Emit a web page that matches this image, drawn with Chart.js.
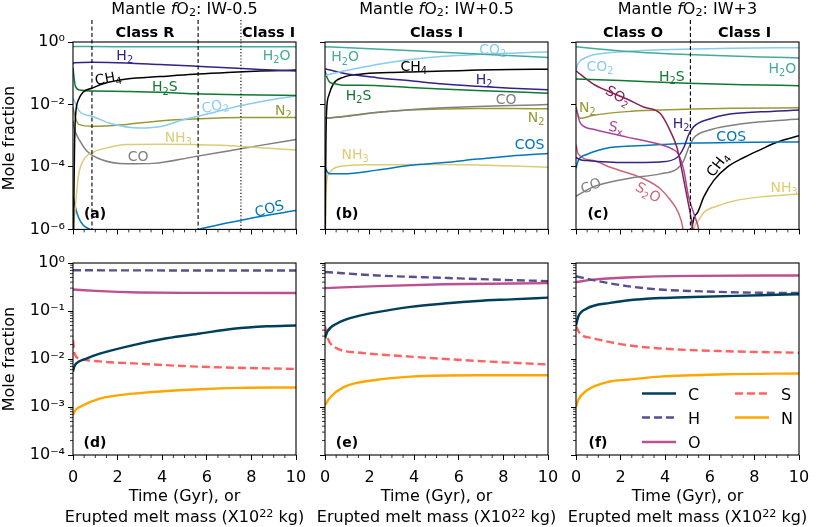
<!DOCTYPE html>
<html>
<head>
<meta charset="utf-8">
<script src="https://cdn.jsdelivr.net/npm/chart.js@4.4.0/dist/chart.umd.min.js"></script>
<style>
  body { margin: 0; background: #fff; }
  #fig { position: relative; width: 830px; height: 527px; overflow: hidden; background: #fff;
         font-family: 'DejaVu Sans', sans-serif; color: #000; }
  canvas { position: absolute; }
  .txt { position: absolute; font-size: 16px; line-height: 1; white-space: nowrap; }
  .txt sub { font-size: 0.7em; vertical-align: -0.22em; line-height: 0; }
  .txt sup { font-size: 0.7em; vertical-align: 0.45em; line-height: 0; }
</style>
</head>
<body>
<div id="fig"></div>
<script>
// ---- data: [x (Gyr), mole fraction] ----
// (a) IW-0.5
const a_H2O = [[0, 0.72], [2, 0.71], [5, 0.71], [8, 0.71], [10, 0.71]];
const a_H2 = [[0, 0.2], [0.05, 0.215], [0.9, 0.225], [2.4, 0.214], [3.9, 0.19], [5.4, 0.169], [6.9, 0.15], [8.4, 0.132], [10, 0.117]];
const a_CH4 = [[0, 1e-8], [0.04, 1e-5], [0.07, 5e-4], [0.1, 3e-3], [0.15, 8e-3], [0.24, 0.014], [0.46, 0.025], [0.84, 0.033], [1.36, 0.046], [2.4, 0.065], [3.9, 0.078], [5.4, 0.093], [6.9, 0.105], [8.4, 0.117], [10, 0.126]];
const a_H2S = [[0, 0.15], [0.05, 0.07], [0.1, 0.04], [0.3, 0.029], [0.9, 0.027], [2.4, 0.026], [3.9, 0.0245], [5.4, 0.022], [6.9, 0.021], [8.4, 0.02], [10, 0.0195]];
const a_CO2 = [[0, 0.016], [0.3, 0.006], [0.9, 0.0041], [1.65, 0.0025], [3, 0.00175], [4, 0.002], [4.9, 0.0032], [6.1, 0.0051], [7.6, 0.0094], [9.1, 0.015], [10, 0.0186]];
const a_N2 = [[0, 0.008], [0.1, 0.004], [0.25, 0.0023], [0.9, 0.002], [2.4, 0.0023], [4, 0.003], [5.4, 0.0034], [7.6, 0.0038], [10, 0.0038]];
const a_NH3 = [[0, 1e-8], [0.04, 1e-6], [0.09, 3.5e-6], [0.24, 4.9e-5], [0.46, 1.6e-4], [0.91, 2.95e-4], [1.66, 4.3e-4], [2.4, 5.2e-4], [3.9, 5.3e-4], [5.4, 5.2e-4], [6.9, 4.9e-4], [8.4, 4.1e-4], [10, 3.5e-4]];
const a_CO = [[0, 0.003], [0.05, 0.0018], [0.31, 6.8e-4], [0.61, 3.3e-4], [1.2, 1.8e-4], [2.4, 1.26e-4], [3.6, 1.3e-4], [5.4, 2.1e-4], [6.9, 3.2e-4], [8.4, 4.9e-4], [10, 7.6e-4]];
const a_COS = [[0, 1.2e-5], [0.09, 5.6e-6], [0.24, 2.5e-6], [0.46, 1.35e-6], [0.76, 1e-6], [1.0, 7e-7], [1.1, null], [5.6, 1e-6], [6.9, 1.6e-6], [8.4, 2.6e-6], [10, 4e-6]];

// (b) IW+0.5
const b_H2O = [[0, 0.71], [2.5, 0.59], [5, 0.48], [7.5, 0.39], [10, 0.32]];
const b_CO2 = [[0, 0.085], [0.83, 0.117], [2.33, 0.19], [3.83, 0.275], [5.34, 0.35], [6.84, 0.4], [8.35, 0.44], [10, 0.48]];
const b_H2 = [[0, 0.14], [0.83, 0.1], [2.33, 0.072], [3.83, 0.057], [5.34, 0.045], [6.84, 0.038], [8.35, 0.033], [10, 0.0295]];
const b_H2S = [[0, 0.12], [0.1, 0.07], [0.22, 0.051], [0.5, 0.045], [0.81, 0.041], [1.6, 0.041], [3.8, 0.035], [6.8, 0.028], [10, 0.023]];
const b_CH4 = [[0, 1e-8], [0.02, 1e-5], [0.04, 5e-4], [0.07, 0.0059], [0.17, 0.0195], [0.38, 0.046], [0.82, 0.074], [1.57, 0.093], [2.9, 0.105], [3.83, 0.11], [5.34, 0.117], [6.84, 0.126], [8.35, 0.132], [10, 0.135]];
const b_CO = [[0, 0.0036], [1, 0.0042], [2.3, 0.0055], [3.8, 0.0068], [5.3, 0.0078], [6.8, 0.0086], [8.35, 0.0093], [10, 0.0099]];
const b_N2 = [[0, 0.0036], [1, 0.0043], [2.3, 0.0055], [3.8, 0.0066], [5.3, 0.0072], [6.8, 0.0074], [8.35, 0.0074], [10, 0.0073]];
const b_COS = [[0, 1.0e-4], [0.1, 7e-5], [0.2, 6e-5], [0.83, 6.0e-5], [2.33, 7.9e-5], [3.83, 1.13e-4], [5.34, 1.38e-4], [6.84, 1.78e-4], [8.35, 2.24e-4], [10, 2.7e-4]];
const b_NH3 = [[0, 1e-8], [0.02, 1.2e-6], [0.07, 3e-5], [0.17, 6.2e-5], [0.38, 8.9e-5], [0.82, 1.08e-4], [2.3, 1.17e-4], [3.8, 1.2e-4], [5.3, 1.2e-4], [6.8, 1.15e-4], [8.35, 1.08e-4], [10, 9.8e-5]];

// (c) IW+3
const c_H2O = [[0, 0.71], [1, 0.6], [2.3, 0.5], [5.3, 0.39], [8.3, 0.33], [10, 0.31]];
const c_CO2 = [[0, 0.12], [0.06, 0.18], [0.18, 0.245], [0.5, 0.33], [0.78, 0.39], [2.3, 0.5], [3.8, 0.56], [5.3, 0.6], [7, 0.63], [10, 0.66]];
const c_H2S = [[0, 0.065], [2, 0.058], [5, 0.048], [7.5, 0.043], [10, 0.04]];
const c_SO2 = [[0, 0.12], [0.78, 0.045], [1.53, 0.025], [2.28, 0.015], [3.03, 0.0083], [3.78, 0.0051], [4.23, 0.0014], [4.53, 4.1e-4], [4.75, 7.6e-5], [4.98, 1.1e-5], [5.2, 1.6e-6], [5.35, 3e-7]];
const c_Sx = [[0, 0.0085], [0.1, 0.004], [0.2, 0.0025], [0.78, 0.0016], [1.53, 0.0012], [2.28, 9e-4], [3.03, 7e-4], [3.78, 5.2e-4], [4.3, 3.8e-4], [4.6, 2.5e-4], [4.83, 8e-5], [5.05, 1.1e-5], [5.28, 3.3e-6], [5.5, 1e-6], [5.6, 3e-7]];
const c_N2 = [[0, 0.0076], [0.1, 0.0045], [0.18, 0.0036], [0.78, 0.0045], [2.28, 0.0059], [3.78, 0.0066], [5.3, 0.0071], [7, 0.0075], [10, 0.0078]];
const c_H2 = [[0, 2.0e-4], [0.2, 1.7e-4], [0.48, 1.6e-4], [2.28, 1.38e-4], [3.78, 1.45e-4], [4.53, 2.0e-4], [4.83, 4.1e-4], [5.05, 1.07e-3], [5.28, 1.95e-3], [6.03, 3.5e-3], [6.78, 4.8e-3], [8.28, 5.8e-3], [10, 6.6e-3]];
const c_COS = [[0, 9e-5], [0.1, 1.6e-4], [0.48, 2.5e-4], [1.53, 4.2e-4], [2.28, 4.6e-4], [3.78, 5.2e-4], [5.3, 5.8e-4], [7, 6.1e-4], [10, 6.3e-4]];
const c_CO = [[0, 1.15e-5], [0.78, 2.3e-5], [2.28, 4.2e-5], [3.78, 6e-5], [4.53, 8.7e-5], [4.83, 1.6e-4], [5.05, 4.1e-4], [5.28, 8.5e-4], [6.03, 1.55e-3], [6.78, 2.04e-3], [8.28, 2.8e-3], [10, 3.4e-3]];
const c_S2O = [[0, 5.2e-4], [0.1, 2.6e-4], [0.78, 1.6e-4], [1.53, 9.8e-5], [3.03, 4.2e-5], [3.78, 2.0e-5], [4.23, 8.7e-6], [4.6, 3.3e-6], [4.8, 1e-6], [4.9, 2e-7]];
const c_CH4 = [[5.12, 1e-8], [5.2, 1e-6], [5.43, 3.3e-6], [5.73, 1.1e-5], [6.18, 3.7e-5], [6.78, 9.8e-5], [7.53, 2e-4], [8.28, 3.6e-4], [9.03, 6.3e-4], [10, 1.0e-3]];
const c_NH3 = [[5.22, 1e-8], [5.3, 1e-6], [5.43, 1.7e-6], [5.73, 3.5e-6], [6.34, 5.6e-6], [7.07, 8.1e-6], [8.28, 1.1e-5], [10, 1.35e-5]];

// (d)-(f) elemental ratios
const d_C = [[0, 0.0055], [0.05, 0.0068], [0.15, 0.0081], [0.6, 0.0102], [1.2, 0.0129], [2.7, 0.0195], [4.2, 0.027], [5.7, 0.034], [7.2, 0.0427], [8.7, 0.048], [10, 0.05]];
const d_H = [[0, 0.705], [5, 0.70], [10, 0.70]];
const d_O = [[0, 0.28], [1, 0.262], [2, 0.25], [3, 0.243], [5, 0.238], [10, 0.237]];
const d_S = [[0, 0.025], [0.07, 0.013], [0.3, 0.0102], [1.2, 0.0089], [2.7, 0.0081], [5.7, 0.0069], [10, 0.0062]];
const d_N = [[0, 6.8e-4], [0.1, 8.5e-4], [0.3, 1.0e-3], [1.2, 1.5e-3], [2.7, 1.9e-3], [4.2, 2.15e-3], [5.7, 2.35e-3], [7.5, 2.5e-3], [10, 2.55e-3]];

const e_C = [[0, 0.027], [0.1, 0.037], [0.54, 0.055], [1.6, 0.081], [2.34, 0.095], [3.84, 0.122], [5.34, 0.143], [6.84, 0.162], [8.34, 0.175], [10, 0.19]];
const e_H = [[0, 0.65], [2.34, 0.55], [5.34, 0.49], [8.34, 0.44], [10, 0.42]];
const e_O = [[0, 0.30], [2.34, 0.33], [5.34, 0.36], [10, 0.38]];
const e_S = [[0, 0.048], [0.1, 0.029], [0.4, 0.018], [1.6, 0.0135], [3.84, 0.0112], [6.84, 0.0091], [10, 0.0077]];
const e_N = [[0, 1.1e-3], [0.24, 1.6e-3], [0.84, 2.6e-3], [2.34, 3.7e-3], [3.84, 4.3e-3], [6.84, 4.6e-3], [10, 4.6e-3]];

const f_C = [[0, 0.05], [0.1, 0.076], [0.48, 0.112], [1.53, 0.148], [2.28, 0.166], [3.77, 0.186], [5.27, 0.196], [8.26, 0.213], [10, 0.224]];
const f_H = [[0, 0.53], [0.78, 0.44], [2.28, 0.33], [3.77, 0.28], [5.27, 0.26], [8.26, 0.24], [10, 0.238]];
const f_O = [[0, 0.40], [0.78, 0.45], [2.28, 0.50], [5.27, 0.54], [10, 0.55]];
const f_S = [[0, 0.048], [0.18, 0.034], [0.78, 0.027], [2.28, 0.0195], [3.77, 0.0166], [6.77, 0.0145], [10, 0.0135]];
const f_N = [[0, 1.0e-3], [0.1, 1.4e-3], [0.48, 2.2e-3], [1.53, 3.4e-3], [2.28, 3.7e-3], [3.77, 4.3e-3], [6.77, 4.8e-3], [10, 5.0e-3]];

// ---- axes ----
const X_MIN = 0, X_MAX = 10, X_STEP = 2;
const TOP_Y_TICKS = [1, 1e-2, 1e-4, 1e-6];
const BOT_Y_TICKS = [1, 1e-1, 1e-2, 1e-3, 1e-4];
const TITLES = ['IW-0.5', 'IW+0.5', 'IW+3'];

// ---- styles ----
const COL = {
  H2O: '#44aa99', CO2: '#88ccee', H2: '#332288', H2S: '#117733', N2: '#999933',
  NH3: '#ddcc77', CO: '#808080', COS: '#0077bb', CH4: '#000000',
  SO2: '#882255', Sx: '#aa4499', S2O: '#cc6677',
  C: '#003f5c', H: '#58508d', O: '#bc5090', S: '#ff6361', N: '#ffa600'
};
const FONT = '"DejaVu Sans", sans-serif';
Chart.defaults.font.family = FONT;
Chart.defaults.font.size = 16;
Chart.defaults.color = '#000';

const PLOT_LEFT = [73, 325, 576];
const PLOT_W = 223, PLOT_H = 192, Y_AXIS_W = 73, PAD_R = 25;
const ROWS = [{ top: 0, padTop: 42, h: 242 }, { top: 240, padTop: 23, h: 287 }];

const SUP = { '0': '⁰', '1': '¹', '2': '²', '3': '³', '4': '⁴', '5': '⁵', '6': '⁶', '-': '⁻' };
const pow10 = v => '10' + String(Math.round(Math.log10(v))).split('').map(c => SUP[c]).join('');

function richSegments(str) {
  const segs = [];
  for (let i = 0; i < str.length; i++) {
    if (str[i] === '_') { segs.push({ t: str[i + 1], sub: true }); i++; }
    else if (segs.length && !segs[segs.length - 1].sub) segs[segs.length - 1].t += str[i];
    else segs.push({ t: str[i], sub: false });
  }
  return segs;
}

function drawRich(ctx, str, x, y, size, color, rot, bold) {
  const segs = richSegments(str);
  const font = s => (bold ? 'bold ' : '') + s + 'px ' + FONT;
  let w = 0;
  segs.forEach(s => { ctx.font = font(s.sub ? size * 0.7 : size); s.w = ctx.measureText(s.t).width; w += s.w; });
  ctx.save();
  ctx.translate(x, y);
  ctx.rotate((rot || 0) * Math.PI / 180);
  ctx.fillStyle = color;
  ctx.textAlign = 'left';
  ctx.textBaseline = 'alphabetic';
  let cx = -w / 2;
  segs.forEach(s => {
    ctx.font = font(s.sub ? size * 0.7 : size);
    ctx.fillText(s.t, cx, size * 0.365 + (s.sub ? size * 0.22 : 0));
    cx += s.w;
  });
  ctx.restore();
}

const pts = arr => arr.map(p => ({ x: p[0], y: p[1] }));

function line(label, arr, color, width, dash) {
  return {
    label, data: pts(arr), borderColor: color, borderWidth: width, borderDash: dash || [],
    pointRadius: 0, fill: false, cubicInterpolationMode: 'monotone', spanGaps: false
  };
}

const panels = [
  {
    letter: '(a)', row: 0, col: 0,
    datasets: [
      line('H2O', a_H2O, COL.H2O, 1.5), line('H2', a_H2, COL.H2, 1.5), line('CH4', a_CH4, COL.CH4, 1.5),
      line('H2S', a_H2S, COL.H2S, 1.5), line('CO2', a_CO2, COL.CO2, 1.5), line('N2', a_N2, COL.N2, 1.5),
      line('NH3', a_NH3, COL.NH3, 1.5), line('CO', a_CO, COL.CO, 1.5), line('COS', a_COS, COL.COS, 1.5)
    ],
    labels: [
      { t: 'H_2', x: 2.32, y: 0.389, c: COL.H2 }, { t: 'H_2O', x: 9.13, y: 0.389, c: COL.H2O },
      { t: 'CH_4', x: 1.57, y: 0.0724, c: COL.CH4, r: -10 }, { t: 'H_2S', x: 4.12, y: 0.038, c: COL.H2S },
      { t: 'CO_2', x: 6.36, y: 0.0093, c: COL.CO2, r: -12 }, { t: 'N_2', x: 9.43, y: 0.0066, c: COL.N2 },
      { t: 'NH_3', x: 4.72, y: 9.5e-4, c: COL.NH3 }, { t: 'CO', x: 2.92, y: 2.24e-4, c: COL.CO },
      { t: 'COS', x: 8.8, y: 4.8e-6, c: COL.COS, r: -15 }
    ],
    vlines: [{ x: 0.85, dash: [4, 2.5] }, { x: 5.61, dash: [4, 2.5] }, { x: 7.53, dash: [1.2, 2] }],
    classes: [{ t: 'Class R', x: 3.23 }, { t: 'Class I', x: 8.77 }]
  },
  {
    letter: '(b)', row: 0, col: 1,
    datasets: [
      line('H2O', b_H2O, COL.H2O, 1.5), line('CO2', b_CO2, COL.CO2, 1.5), line('H2', b_H2, COL.H2, 1.5),
      line('H2S', b_H2S, COL.H2S, 1.5), line('CH4', b_CH4, COL.CH4, 1.5), line('CO', b_CO, COL.CO, 1.5),
      line('N2', b_N2, COL.N2, 1.5), line('COS', b_COS, COL.COS, 1.5), line('NH3', b_NH3, COL.NH3, 1.5)
    ],
    labels: [
      { t: 'H_2O', x: 0.9, y: 0.347, c: COL.H2O }, { t: 'CO_2', x: 7.52, y: 0.603, c: COL.CO2 },
      { t: 'CH_4', x: 3.98, y: 0.17, c: COL.CH4 }, { t: 'H_2', x: 7.14, y: 0.0676, c: COL.H2 },
      { t: 'H_2S', x: 1.5, y: 0.0209, c: COL.H2S }, { t: 'CO', x: 8.12, y: 0.0151, c: COL.CO },
      { t: 'N_2', x: 9.47, y: 0.0039, c: COL.N2 }, { t: 'COS', x: 9.17, y: 5.6e-4, c: COL.COS },
      { t: 'NH_3', x: 1.35, y: 2.57e-4, c: COL.NH3 }
    ],
    vlines: [],
    classes: [{ t: 'Class I', x: 5 }]
  },
  {
    letter: '(c)', row: 0, col: 2,
    datasets: [
      line('H2O', c_H2O, COL.H2O, 1.5), line('CO2', c_CO2, COL.CO2, 1.5), line('H2S', c_H2S, COL.H2S, 1.5),
      line('SO2', c_SO2, COL.SO2, 1.5), line('Sx', c_Sx, COL.Sx, 1.5), line('N2', c_N2, COL.N2, 1.5),
      line('H2', c_H2, COL.H2, 1.5), line('COS', c_COS, COL.COS, 1.5), line('CO', c_CO, COL.CO, 1.5),
      line('S2O', c_S2O, COL.S2O, 1.5), line('CH4', c_CH4, COL.CH4, 1.5), line('NH3', c_NH3, COL.NH3, 1.5)
    ],
    labels: [
      { t: 'CO_2', x: 1.08, y: 0.178, c: COL.CO2 }, { t: 'H_2O', x: 9.25, y: 0.148, c: COL.H2O },
      { t: 'H_2S', x: 4.3, y: 0.085, c: COL.H2S }, { t: 'SO_2', x: 1.9, y: 0.0195, c: COL.SO2, r: 30 },
      { t: 'N_2', x: 0.51, y: 0.0083, c: COL.N2 }, { t: 'S_x', x: 1.8, y: 0.00195, c: COL.Sx, r: 10 },
      { t: 'H_2', x: 4.71, y: 0.0025, c: COL.H2 }, { t: 'COS', x: 6.96, y: 0.00102, c: COL.COS },
      { t: 'CH_4', x: 6.33, y: 1.23e-4, c: COL.CH4, r: -52 }, { t: 'CO', x: 0.66, y: 2.57e-5, c: COL.CO, r: -22 },
      { t: 'S_2O', x: 3.25, y: 1.58e-5, c: COL.S2O, r: 30 }, { t: 'NH_3', x: 9.33, y: 2.29e-5, c: COL.NH3 }
    ],
    vlines: [{ x: 5.13, dash: [4, 2.5] }],
    classes: [{ t: 'Class O', x: 2.56 }, { t: 'Class I', x: 7.56 }]
  },
  { letter: '(d)', row: 1, col: 0, elem: [d_C, d_H, d_O, d_S, d_N] },
  { letter: '(e)', row: 1, col: 1, elem: [e_C, e_H, e_O, e_S, e_N] },
  { letter: '(f)', row: 1, col: 2, elem: [f_C, f_H, f_O, f_S, f_N], legend: true }
];

const fig = document.getElementById('fig');

function addText(html, x, y, cls, extra) {
  const d = document.createElement('div');
  d.className = 'txt' + (cls ? ' ' + cls : '');
  d.innerHTML = html;
  d.style.left = x + 'px';
  d.style.top = y + 'px';
  d.style.transform = extra || 'translateX(-50%)';
  fig.appendChild(d);
}

function panelPlugin(p) {
  return {
    id: 'panelDeco',
    afterDraw(chart) {
      const { ctx, chartArea: ca, scales: { x, y } } = chart;
      ctx.save();
      // curve labels
      (p.labels || []).forEach(l => drawRich(ctx, l.t, x.getPixelForValue(l.x), y.getPixelForValue(l.y), 14, l.c, l.r));
      // vertical class boundaries
      (p.vlines || []).forEach(v => {
        const px = x.getPixelForValue(v.x);
        ctx.beginPath();
        ctx.setLineDash(v.dash);
        ctx.strokeStyle = '#000';
        ctx.lineWidth = 1.1;
        ctx.moveTo(px, 20);
        ctx.lineTo(px, ca.bottom);
        ctx.stroke();
      });
      ctx.setLineDash([]);
      (p.classes || []).forEach(c => drawRich(ctx, c.t, x.getPixelForValue(c.x), 32, 14.5, '#000', 0, true));
      // frame
      ctx.strokeStyle = '#000';
      ctx.lineWidth = 1.1;
      ctx.strokeRect(ca.left, ca.top, ca.right - ca.left, ca.bottom - ca.top);
      // minor ticks
      ctx.lineWidth = 0.8;
      ctx.beginPath();
      for (let v = 0.5; v < X_MAX; v += 0.5) {
        if (v % X_STEP === 0) continue;
        const px = x.getPixelForValue(v);
        ctx.moveTo(px, ca.bottom);
        ctx.lineTo(px, ca.bottom + 3);
      }
      if (p.row === 1) {
        for (let n = -4; n < 0; n++) {
          for (let k = 2; k <= 9; k++) {
            const py = y.getPixelForValue(k * Math.pow(10, n));
            ctx.moveTo(ca.left - 3, py);
            ctx.lineTo(ca.left, py);
          }
        }
      }
      ctx.stroke();
      // panel letter
      drawRich(ctx, p.letter, ca.left + 22, ca.bottom - (p.row === 0 ? 17 : 13.5), 14, '#000', 0, true);
      // legend
      if (p.legend) {
        const cols = [[0, 1, 2], [3, 4]];
        const colX = [66, 159];
        const rowY = [130.5, 154.5, 179];
        cols.forEach((idxs, ci) => idxs.forEach((di, ri) => {
          const ds = chart.data.datasets[di];
          const lx = ca.left + colX[ci], ly = ca.top + rowY[ri];
          ctx.beginPath();
          ctx.setLineDash(ds.borderDash);
          ctx.strokeStyle = ds.borderColor;
          ctx.lineWidth = ds.borderWidth;
          ctx.moveTo(lx, ly);
          ctx.lineTo(lx + 34, ly);
          ctx.stroke();
          ctx.setLineDash([]);
          ctx.fillStyle = '#000';
          ctx.font = '16px ' + FONT;
          ctx.textAlign = 'left';
          ctx.textBaseline = 'alphabetic';
          ctx.fillText(ds.label, lx + 46, ly + 6);
        }));
      }
      ctx.restore();
    }
  };
}

panels.forEach(p => {
  const row = ROWS[p.row];
  const cv = document.createElement('canvas');
  const w = Y_AXIS_W + PLOT_W + PAD_R;
  cv.width = w; cv.height = row.h;
  cv.style.left = (PLOT_LEFT[p.col] - Y_AXIS_W) + 'px';
  cv.style.top = row.top + 'px';
  cv.style.width = w + 'px'; cv.style.height = row.h + 'px';
  fig.appendChild(cv);

  let datasets = p.datasets;
  if (p.elem) {
    const [C, H, O, S, N] = p.elem;
    datasets = [
      line('C', C, COL.C, 2.4), line('H', H, COL.H, 2.4, [8, 4]), line('O', O, COL.O, 2.4),
      line('S', S, COL.S, 2.4, [8, 4]), line('N', N, COL.N, 2.4)
    ];
  }
  const yTicks = p.row === 0 ? TOP_Y_TICKS : BOT_Y_TICKS;
  const showY = p.col === 0, showX = p.row === 1;
  const xAxisH = row.h - row.padTop - PLOT_H;
  const grid = { drawOnChartArea: false, drawTicks: true, tickLength: 5, color: '#000', tickColor: '#000', tickWidth: 1 };

  new Chart(cv, {
    type: 'line',
    data: { datasets },
    options: {
      responsive: false,
      animation: false,
      devicePixelRatio: 1,
      layout: { padding: { top: row.padTop, right: PAD_R, bottom: 0, left: 0 } },
      plugins: { legend: { display: false }, tooltip: { enabled: false } },
      scales: {
        x: {
          type: 'linear', min: X_MIN, max: X_MAX,
          afterFit: s => { s.height = xAxisH; },
          ticks: { stepSize: X_STEP, padding: 8, maxRotation: 0, autoSkip: false, callback: v => showX ? String(v) : '' },
          grid, border: { display: false }
        },
        y: {
          type: 'logarithmic', min: yTicks[yTicks.length - 1], max: 1,
          afterFit: s => { s.width = Y_AXIS_W; },
          afterBuildTicks: s => { s.ticks = yTicks.map(v => ({ value: v })); },
          ticks: { padding: 3, autoSkip: false, callback: v => showY ? pow10(v) : '' },
          grid, border: { display: false }
        }
      }
    },
    plugins: [panelPlugin(p)]
  });
});

// titles and axis labels
TITLES.forEach((t, i) => {
  const cx = PLOT_LEFT[i] + PLOT_W / 2;
  addText('Mantle <i>f</i>O<sub>2</sub>: ' + t, cx, 0.5);
  addText('Time (Gyr), or', cx, 488);
  addText('Erupted melt mass (X10<sup>22</sup> kg)', cx, 509);
});
addText('Mole fraction', 8.5, 138, '', 'translate(-50%, -50%) rotate(-90deg)');
addText('Mole fraction', 8.5, 359, '', 'translate(-50%, -50%) rotate(-90deg)');
</script>
</body>
</html>
